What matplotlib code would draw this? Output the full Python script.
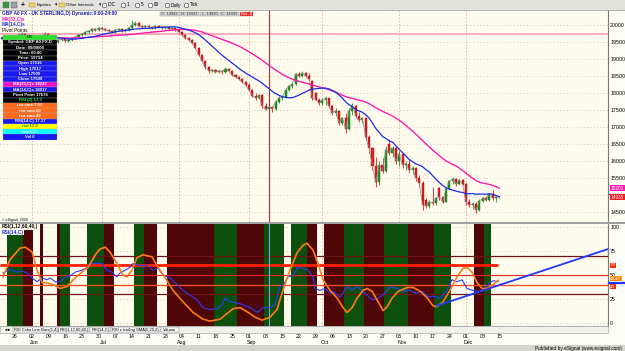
import numpy as np
import pandas as pd
import matplotlib
matplotlib.use("Agg")
import matplotlib.pyplot as plt
from matplotlib.patches import Rectangle
from matplotlib.transforms import blended_transform_factory

# GBP/USD daily bars (price x 10000), day 0 = Mon 26 May 2008
first_day = -4
opens = [19580, 19620, 19650, 19590, 19650, 19680, 19710, 19740, 19680, 19650,
         19590, 19560, 19530, 19620, 19740, 19620, 19530, 19500, 19560, 19590,
         19530, 19560, 19620, 19650, 19710, 19740, 19790, 19820, 19880, 19850,
         19910, 19880, 19850, 19820, 19790, 19850, 19880, 19820, 19850, 19910,
         20000, 20060, 19970, 19940, 19970, 19940, 19910, 19970, 19940, 19910,
         19940, 19880, 19910, 19850, 19790, 19710, 19620, 19560, 19470, 19320,
         19120, 18940, 18760, 18650, 18680, 18620, 18650, 18620, 18720, 18650,
         18530, 18470, 18410, 18320, 18240, 18090, 17920, 17850, 17930, 17620,
         17516, 17598, 17530, 17740, 17850, 17880, 18090, 18200, 18260, 18560,
         18500, 18590, 18500, 18350, 17990, 17800, 17700, 17800, 17840, 17620,
         17420, 17480, 17120, 17250, 16950, 17460, 17620, 17330, 17200, 17250,
         16700, 16380, 15850, 15380, 15880, 15720, 16500, 16250, 16380, 16000,
         16200, 15880, 15920, 15730, 15790, 15500, 15350, 14850, 14680, 14800,
         14760, 15200, 14950, 14800, 15180, 15400, 15470, 15320, 15440, 15310,
         14800, 14700, 14750, 14560, 14820, 14900, 14860, 15020, 14900, 14943]
highs = [19680, 19700, 19680, 19690, 19720, 19760, 19790, 19760, 19730, 19670,
         19620, 19590, 19660, 19780, 19760, 19640, 19560, 19600, 19630, 19610,
         19600, 19650, 19680, 19740, 19770, 19830, 19850, 19920, 19910, 19950,
         19930, 19900, 19880, 19840, 19880, 19910, 19900, 19880, 19950, 20150,
         20120, 20080, 20000, 20010, 19990, 19960, 20000, 19990, 19960, 19970,
         19950, 19940, 19930, 19870, 19810, 19730, 19650, 19580, 19490, 19340,
         19150, 18970, 18790, 18720, 18710, 18690, 18680, 18750, 18740, 18670,
         18560, 18500, 18440, 18350, 18280, 18120, 17990, 17960, 17970, 17700,
         17617, 17620, 17780, 17900, 17940, 18140, 18230, 18300, 18600, 18630,
         18660, 18620, 18590, 18380, 18040, 17860, 17850, 17880, 17860, 17650,
         17560, 17500, 17300, 17410, 17560, 17700, 17650, 17440, 17300, 17260,
         16760, 16420, 16120, 16000, 16080, 16440, 16650, 16440, 16440, 16300,
         16250, 16000, 16030, 15850, 15830, 15590, 15400, 14900, 14850, 15230,
         14950, 15230, 14980, 15230, 15450, 15530, 15500, 15480, 15480, 15350,
         14880, 14800, 14790, 14870, 14930, 14970, 15070, 15150, 14960, 14943]
lows = [19550, 19590, 19560, 19570, 19630, 19650, 19690, 19650, 19610, 19540,
        19510, 19480, 19510, 19600, 19590, 19500, 19450, 19480, 19530, 19500,
        19510, 19540, 19600, 19630, 19680, 19720, 19760, 19800, 19820, 19830,
        19850, 19810, 19780, 19750, 19770, 19830, 19790, 19800, 19830, 19890,
        19980, 19940, 19900, 19920, 19900, 19870, 19890, 19910, 19880, 19890,
        19850, 19860, 19820, 19760, 19680, 19590, 19530, 19440, 19290, 19090,
        18900, 18720, 18600, 18610, 18590, 18600, 18570, 18600, 18620, 18500,
        18430, 18380, 18290, 18200, 18060, 17880, 17800, 17820, 17560, 17500,
        17509, 17440, 17500, 17700, 17780, 17860, 18060, 18150, 18230, 18480,
        18470, 18470, 18360, 17790, 17780, 17640, 17650, 17650, 17560, 17350,
        17310, 17060, 17050, 16820, 16900, 17350, 17270, 17150, 17130, 16620,
        16240, 15740, 15240, 15300, 15640, 15680, 16180, 16120, 15900, 15850,
        15800, 15740, 15650, 15620, 15410, 15250, 14560, 14620, 14620, 14700,
        14700, 14850, 14760, 14780, 15150, 15320, 15260, 15280, 15280, 14720,
        14640, 14600, 14470, 14530, 14780, 14810, 14830, 14850, 14800, 14920]
closes = [19620, 19650, 19590, 19650, 19680, 19710, 19740, 19680, 19650, 19590,
          19560, 19530, 19620, 19740, 19620, 19530, 19500, 19560, 19590, 19530,
          19560, 19620, 19650, 19710, 19740, 19790, 19820, 19880, 19850, 19910,
          19880, 19850, 19820, 19790, 19850, 19880, 19820, 19850, 19910, 20000,
          20060, 19970, 19940, 19970, 19940, 19910, 19970, 19940, 19910, 19940,
          19880, 19910, 19850, 19790, 19710, 19620, 19560, 19470, 19320, 19120,
          18940, 18760, 18650, 18680, 18620, 18650, 18620, 18720, 18650, 18530,
          18470, 18410, 18320, 18240, 18090, 17920, 17850, 17930, 17620, 17516,
          17598, 17530, 17740, 17850, 17880, 18090, 18200, 18260, 18560, 18500,
          18590, 18500, 18400, 17850, 17800, 17700, 17800, 17840, 17620, 17420,
          17480, 17120, 17250, 16950, 17460, 17620, 17330, 17200, 17250, 16700,
          16380, 15850, 15380, 15880, 15720, 16330, 16250, 16380, 16000, 16200,
          15880, 15920, 15730, 15790, 15500, 15350, 14700, 14680, 14800, 14760,
          14900, 14950, 14800, 15180, 15400, 15470, 15320, 15440, 15310, 14800,
          14700, 14750, 14560, 14820, 14900, 14860, 15020, 14900, 14943, 14935]

price_ticks = list(range(14500, 20001, 500))
pivot_level = 19735
cursor_day = 76

week_days = list(range(0, 146, 5))
week_labels = ["26", "02", "09", "16", "23", "30", "07", "14", "21", "28",
               "04", "11", "18", "25", "01", "08", "15", "22", "29", "06",
               "13", "20", "27", "03", "10", "17", "24", "01", "08", "15"]
month_days = [5, 26, 49, 70, 92, 115, 135]
month_names = ["Jun", "Jul", "Aug", "Sep", "Oct", "Nov", "Dec"]

rsi_days = [-3.6, -1.5, 0.6, 2.4, 3.6, 5.1, 6.6, 8.1, 9.6, 10.5, 12, 13.5, 15, 16.5,
            18, 20, 21.6, 23, 24.6, 26, 27.5, 29, 30.5, 31.4, 33, 34.4, 35.3, 37.4,
            39.5, 41.3, 42.8, 44.3, 46.4, 48.5, 50.3, 52.4, 54.5, 56.3, 58.4, 60.5,
            62, 62.9, 64.4, 66.5, 68.3, 70.4, 72.5, 74.3, 76.3, 77.8, 79.3, 80.2,
            81.7, 83.2, 84.7, 86.2, 87.7, 89.2, 89.8, 91.3, 92.8, 94.3, 95.2, 97.3,
            99.4, 100.9, 102.4, 103.9, 105.4, 106.9, 108.7, 110.8, 112.3, 114.4,
            116.2, 118.3, 119.8, 121.9, 123.7, 125.1, 127.2, 129.3, 130.8, 132.3,
            133.8, 135.3, 137.1, 139.2, 140.7, 142.2, 143.1, 144.6]
rsi_vals = [52, 56, 53, 54, 52, 47, 43, 47, 45, 47, 43, 43, 48, 49, 53, 55, 58, 62,
            62, 62, 55, 53, 48, 52, 55, 58, 62, 60, 60, 55, 57, 50, 47, 40, 34, 29,
            24, 16, 14, 15, 19, 26, 22, 21, 19, 16, 11, 16, 16, 19, 38, 39, 48, 50,
            58, 57, 55, 48, 36, 34, 36, 31, 33, 27, 38, 34, 38, 34, 29, 24, 26, 31,
            38, 36, 33, 34, 31, 33, 27, 28, 26, 34, 45, 43, 45, 36, 34, 33, 36, 42,
            44, 43.17]
osc_days = [-3.6, -1.5, 1.5, 3, 5.1, 6.6, 8.1, 9.6, 11.4, 13.5, 15.6, 17.4, 20, 21.9,
            24, 25.4, 27, 28.4, 30.5, 32.3, 33.5, 35, 36.5, 38.3, 41, 42.8, 45, 47.3,
            50.3, 53.3, 56.3, 58.4, 61.4, 63.5, 65.3, 67.4, 69.8, 71.9, 74, 76.3,
            78.4, 80.2, 82.3, 84.4, 86.2, 87.4, 89.2, 90.7, 92.2, 94.3, 96.4, 98.2,
            99.4, 100.9, 102.4, 104.2, 105.4, 106.9, 108.7, 110.2, 111.4, 112.9,
            114.7, 117.4, 119.2, 121.3, 123.4, 125.1, 126.3, 128.1, 130.2, 132.3,
            134.1, 135.3, 136.8, 138.3, 139.8, 141.3, 143.1, 144.6]
osc_vals = [48, 66, 78, 79, 74, 55, 42, 42, 40, 36, 38, 45, 53, 58, 71, 77, 79, 74,
            62, 50, 48, 55, 68, 71, 69, 58, 47, 34, 22, 11, 4, 2, 4, 10, 15, 16, 11,
            6, 3, 6, 14, 34, 55, 73, 81, 83, 76, 62, 45, 34, 26, 16, 11, 16, 26, 34,
            36, 33, 22, 13, 17, 26, 33, 37, 37, 33, 26, 18, 17, 22, 34, 48, 57, 58,
            53, 42, 36, 36, 40, 44.47]

# colour-bar state behind the RSI pane: 1 = bull (green), -1 = bear (maroon)
band_start = [-2.5, 2.5, 7.5, 12.5, 13.5, 21.5, 26.5, 35.5, 38.5, 45.5, 59.5, 66.5,
              74.5, 82.5, 87.5, 92.5, 98.5, 104.5, 110.5, 117.5, 125.5, 137.5, 140.5]
band_end = [2.5, 5.5, 8.5, 13.5, 16.5, 26.5, 29.5, 38.5, 42.5, 59.5, 66.5, 74.5,
            80.5, 87.5, 90.5, 98.5, 104.5, 110.5, 117.5, 125.5, 130.5, 140.5, 142.5]
band_state = [1, -1, -1, -1, 1, 1, -1, 1, -1, -1, 1, -1, 1, 1, -1, -1, 1, -1, 1, -1,
              1, -1, 1]

level_values = [70, 60, 50, 40, 30]
trend_days = [126.3, 177.5]
trend_vals = [18, 77]

data_rows = ["OK", "Symbol: GBP A0-FX,D", "Date: 09/09/08", "Time: 00:00",
             "Price: 19714", "Open", "High", "Low", "Close", "MA(33,C)s 18247",
             "MA(14,C)s 18017", "Pivot Point 17676", "RSI (2) 17.3", "rsa sma 7.57",
             "rsa sma 60", "rsa sma 40", "RSI(14,C) 17.17", "rsa 17.3", "rsa 6.21",
             "Vol 0"]

plt.rcParams['font.family'] = ['Liberation Sans', 'DejaVu Sans']

W, H = 625, 351
cream = "#FFFCEE"
fig = plt.figure(figsize=(W / 100, H / 100), dpi=100, facecolor="#FFFDF5")


def rect(x0, y0, x1, y1):
    return [x0 / W, 1 - y1 / H, (x1 - x0) / W, (y1 - y0) / H]


ax = fig.add_axes(rect(0, 10, 608, 222))
ax2 = fig.add_axes(rect(0, 224, 608, 326))
ov = fig.add_axes([0, 0, 1, 1], zorder=10)
ov.set_xlim(0, W)
ov.set_ylim(H, 0)
ov.axis("off")

o = np.array(opens)
h = np.array(highs)
l = np.array(lows)
c = np.array(closes)
days = np.arange(first_day, first_day + len(c))

# ---- price pane
ax.set_facecolor(cream)
up = c >= o
body = np.where(up, "#1E9A1E", "#E5191E")
edge = np.where(up, "#0F5F0F", "#A00E0E")
ax.vlines(days, l, h, colors=body, lw=0.6, zorder=3)
ax.bar(days, np.maximum(np.abs(c - o), 8), bottom=np.minimum(o, c), width=0.62,
       color=body, edgecolor=edge, linewidth=0.3, zorder=4)
ax.plot(days, c, color="#8C8C8C", lw=0.5, zorder=5)
ma_fast = pd.Series(c).rolling(14, min_periods=1).mean()
ma_slow = pd.Series(c).rolling(33, min_periods=1).mean()
ax.plot(days, ma_slow, color="#FF1AAA", lw=1.0, zorder=6)
ax.plot(days, ma_fast, color="#1A2BE6", lw=0.9, zorder=6)
ax.axhline(pivot_level, color="#F3A3AB", lw=1.2, zorder=2)
for d in month_days:
    ax.axvline(d, color="#E2AFAF", lw=0.6, ls=(0, (2, 2)), zorder=1)
ax.axvline(cursor_day, color="#A23030", lw=0.8, zorder=2)

ax.set_xlim(-4.5, 177.5)
ax.set_ylim(14206, 20441)
ax.set_xticks([])
ax.set_yticks(price_ticks)
# the 15000 label sits under the last-value flags, as in the original
ax.set_yticklabels(["" if t == 15000 else str(t) for t in price_ticks])
ax.yaxis.tick_right()
ax.tick_params(axis="y", length=0, labelsize=3.8, pad=1.5)
ax.grid(axis="y", color="#CFB4B4", lw=0.6, ls=(0, (1, 3)))
for s in ["top", "left"]:
    ax.spines[s].set_visible(False)
ax.spines["right"].set_color("#7A7A7A")
ax.spines["bottom"].set_color("#9A9A9A")

bt = blended_transform_factory(ax.transAxes, ax.transData)
for val, fc in [(ma_slow.iloc[-1], "#FF1AAA"), (c[-1], "#F01E1E")]:
    ax.text(1.004, val, f"{val:.0f}", transform=bt, fontsize=3.4, color="white",
            ha="left", va="center", clip_on=False, zorder=8,
            bbox=dict(fc=fc, ec="none", pad=0.5))
ax.plot([1.002, 1.03], [ma_fast.iloc[-1] + 90] * 2, transform=bt, color="#1A2BE6",
        lw=0.9, clip_on=False, zorder=7)

# ---- RSI pane
ax2.set_facecolor(cream)
ax2.set_axisbelow(True)
band_col = {1: "#0D4F0D", -1: "#4F0606"}
for s, e, st in zip(band_start, band_end, band_state):
    ax2.axvspan(s, e, color=band_col[st], lw=0, zorder=1)
for d in month_days:
    ax2.axvline(d, color="#D9B0B0", lw=0.6, ls=(0, (2, 2)), zorder=0.5)
level_style = {70: ("#6A1414", 0.9), 60: ("#FF1E00", 2.0), 50: ("#E8261A", 0.8),
               40: ("#F0501E", 1.0), 30: ("#6A1414", 0.9)}
for v in level_values:
    col, lw = level_style[v]
    if v == 60:
        ax2.hlines(v, -4.5, osc_days[-1], color=col, lw=lw, zorder=3)
    else:
        ax2.axhline(v, color=col, lw=lw, zorder=3)
ax2.axvline(cursor_day, color="#6FB0E0", lw=0.8, zorder=3)
ax2.plot(rsi_days, rsi_vals, color="#2A3CFF", lw=0.8, zorder=4)
ax2.plot(osc_days, osc_vals, color="#FF7A1A", lw=1.2, zorder=5)
ax2.plot(trend_days, trend_vals, color="#2038FF", lw=1.3, zorder=6)

ax2.set_xlim(-4.5, 177.5)
ax2.set_ylim(-3.1, 103.1)
ax2.set_yticks([0, 25, 50, 75, 100])
ax2.yaxis.tick_right()
ax2.tick_params(axis="y", length=0, labelsize=3.8, pad=1.5)
ax2.grid(axis="y", color="#C8B0B0", lw=0.6, ls=(0, (1, 3)))
ax2.set_xticks(week_days)
ax2.set_xticklabels(week_labels)
ax2.tick_params(axis="x", length=0, labelsize=3.8, pad=5.4)
for s in ["top", "left"]:
    ax2.spines[s].set_visible(False)
ax2.spines["right"].set_color("#7A7A7A")
ax2.spines["bottom"].set_color("#9A9A9A")

mt = blended_transform_factory(ax2.transData, ax2.transAxes)
for d, name in zip(month_days, month_names):
    ax2.text(d - 0.6, -0.157, name, transform=mt, fontsize=3.8, ha="left",
             va="center", clip_on=False)

bt2 = blended_transform_factory(ax2.transAxes, ax2.transData)
for val, txt, fc in [(60, "60", "#FF2A00"), (osc_vals[-1] + 1.8, f"{osc_vals[-1]:.2f}", "#FF8A1A"),
                     (38.0, "40", "#F03010")]:
    ax2.text(1.004, val, txt, transform=bt2, fontsize=3.2, color="white", ha="left",
             va="center", clip_on=False, zorder=8, bbox=dict(fc=fc, ec="none", pad=0.3))
ax2.plot([1.002, 1.03], [rsi_vals[-1] - 1.5] * 2, transform=bt2, color="#2030FF",
         lw=1.6, clip_on=False, zorder=7)

# ---- window chrome
ov.add_patch(Rectangle((0, 0), W, 9.5, fc="#E4E2DC", ec="none"))
ov.plot([0, W], [9.5, 9.5], color="#A5A5A5", lw=0.6)
ov.add_patch(Rectangle((3, 2), 6, 5.5, fc="#3A9A3A", ec="#555555", lw=0.3))
ov.add_patch(Rectangle((11, 2), 6, 5.5, fc="#9AA0A8", ec="#555555", lw=0.3))
ov.text(23, 5, "+", fontsize=5, ha="center", va="center", fontweight="bold")
for fx0, label, lx in [(29, "Equities", 36.5), (59, "Other Intervals", 66.5)]:
    ov.add_patch(Rectangle((fx0, 2.5), 6, 4.5, fc="#F2D46A", ec="#9A7A20", lw=0.3))
    ov.text(lx, 5, label, fontsize=3.1, va="center")
ov.text(54.5, 5, "\u25be", fontsize=3.3, va="center")
ov.text(98.5, 5, "\u25be", fontsize=3.3, va="center")
for cx, label in [(104, "IDC"), (123, "1"), (137, "5"), (150, "60"), (167, "Daily"), (186, "Tick")]:
    ov.plot(cx, 5, "o", ms=3.3, mfc="white", mec="#333333", mew=0.4)
    ov.text(cx + 3.5, 5, label, fontsize=3.3, va="center")

ov.text(2, 13.5, "GBP A0 FX - UK STERLING,D) Dynamic:0:00-24:00", fontsize=3.4,
        color="#1C1CB8", va="center", fontweight="bold")
ov.text(2, 19.2, "MA(33,C)s", fontsize=3.4, color="#FF1AAA", va="center", fontweight="bold")
ov.text(2, 24.8, "MA(14,C)s", fontsize=3.4, color="#1A2BE6", va="center", fontweight="bold")
ov.text(2, 30.3, "Pivot Points", fontsize=3.4, color="black", va="center")

last_net = c[-1] - c[-2]
bx = 160
for label, fc, tc, wd in [(f"O: {o[-1]}", "#D9D9D9", "#333333", 20), (f"H: {h[-1]}", "#D9D9D9", "#333333", 20),
                          (f"L: {l[-1]}", "#D9D9D9", "#333333", 20), (f"C: {c[-1]}", "#D9D9D9", "#333333", 20),
                          (f"Net {last_net}", "#F01E1E", "white", 14)]:
    ov.add_patch(Rectangle((bx, 11.5), wd - 1, 4.8, fc=fc, ec="#8A8A8A", lw=0.3))
    ov.text(bx + (wd - 1) / 2, 13.9, label, fontsize=2.9, color=tc, ha="center", va="center")
    bx += wd

# data window
k = cursor_day - first_day
row_text = list(data_rows)
row_text[5] = f"Open {o[k]}"
row_text[6] = f"High {h[k]}"
row_text[7] = f"Low {l[k]}"
row_text[8] = f"Close {c[k]}"
row_bg = ["#2EE02E"] + ["black"] * 4 + ["#1818F0"] * 4 + ["#F010C0", "#1818F0", "black", "black"] \
         + ["#FF6A1A"] * 3 + ["#1818F0", "#FFFF00", "#00FFFF", "#1818F0"]
row_fg = ["#0A3A0A"] + ["white"] * 11 + ["#33FF33"] + ["white"] * 4 + ["#1A8A1A", "white", "white"]
rh = 5.25
for j, (t, bg, fg) in enumerate(zip(row_text, row_bg, row_fg)):
    y0 = 34.5 + j * rh
    ov.add_patch(Rectangle((3, y0), 54, rh, fc=bg, ec="#B0B0B0", lw=0.2))
    ov.text(30, y0 + rh / 2, t, fontsize=3.1, color=fg, ha="center", va="center",
            fontweight="bold")

ov.text(2, 219.5, "\u00a9 eSignal, 2008", fontsize=2.6, va="center")
ov.add_patch(Rectangle((0, 222.3), W, 1.6, fc="#A0A0A0", ec="none"))
ov.text(2, 226.8, "RSI(1,12,60,40,)", fontsize=3.5, va="center", fontweight="bold",
        bbox=dict(fc=cream, ec="none", pad=0.2))
ov.text(2, 232.6, "RSI(14,C)", fontsize=3.5, va="center", color="#1A2BE6",
        fontweight="bold", bbox=dict(fc=cream, ec="none", pad=0.2))

# tab strip
ov.add_patch(Rectangle((0, 326.3), 608, 6.7, fc="#F2F0EA", ec="#A0A0A0", lw=0.4))
ov.text(3, 329.6, "\u25c4\u25ba", fontsize=3, va="center")
tx = 13
for t, wd in [("RSI Color Line Bars(1,4,)", 45), ("RSI(1,12,60,40,)", 32), ("RSI(14,C)", 21),
              ("RSI e trailing SMA(5,20,2)", 50), ("Volume", 19)]:
    ov.add_patch(Rectangle((tx, 326.8), wd - 1, 5.6, fc="#FAFAF6", ec="#7A7A7A", lw=0.3))
    ov.text(tx + 1.5, 329.6, t, fontsize=2.9, va="center")
    tx += wd

ov.add_patch(Rectangle((0, 345.2), W, 5.8, fc="#D6D3CB", ec="none"))
ov.text(622, 348.2, "Published by eSignal (www.esignal.com)", fontsize=3.4, ha="right", va="center")

fig.savefig("out.png", dpi=100, facecolor=fig.get_facecolor())
